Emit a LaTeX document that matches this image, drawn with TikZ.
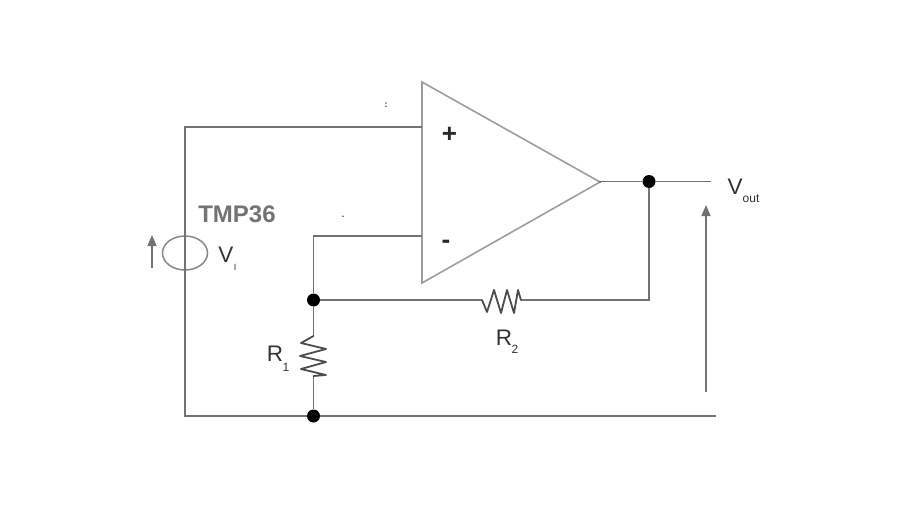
\documentclass[tikz,border=0pt]{standalone}
\usepackage{fontspec}
\setmainfont{Liberation Sans}
\usetikzlibrary{arrows.meta,shapes.geometric}
\definecolor{wire}{gray}{0.45}
\definecolor{wiredark}{gray}{0.3}
\definecolor{labelc}{gray}{0.2}
\tikzset{
  x=1pt,y=-1pt,
  wireline/.style={draw=wire,line width=1.5pt,line join=miter},
  opline/.style={draw=wire!70,line width=1.6pt,line join=miter},
  resline/.style={draw=wiredark,line width=1.8pt,line join=round,line cap=round},
  dotnode/.style={circle,fill=black,draw=none,inner sep=0pt,minimum size=13pt},
  lab/.style={text=labelc,inner sep=0pt,font=\fontsize{22.5}{24}\selectfont},
  subl/.style={text=labelc,inner sep=0pt,font=\fontsize{12}{13}\selectfont},
  sign/.style={text=black!85,inner sep=0pt,font=\bfseries\fontsize{26}{28}\selectfont},
  speck/.style={text=black!80,inner sep=0pt,font=\bfseries\fontsize{9}{10}\selectfont},
  arrowline/.style={draw=wire,line width=1.4pt,-{Triangle[length=11pt,width=9pt]}},
  source/.style={ellipse,draw=wire!85,line width=1.5pt,minimum width=45pt,minimum height=34pt,inner sep=0pt}
}
\begin{document}
\begin{tikzpicture}
\useasboundingbox (0,0) rectangle (921,519);
% op-amp
\coordinate (ta) at (422,82);
\coordinate (tb) at (422,283);
\coordinate (tc) at (600,182);
\draw[opline] (ta) -- (tc) -- (tb) -- cycle;
\node[sign] (plus) at (449.5,135) {+};
\node[sign] (minus) at (446,244.5) {-};
% named points
\coordinate (inp) at (422,127);
\coordinate (inm) at (422,236);
\coordinate (tl) at (185,127);
\coordinate (bl) at (185,416);
\coordinate (ml) at (313.5,236);
\coordinate (br) at (716,416);
\coordinate (outend) at (711,181.5);
\coordinate (fbc) at (649,300);
\node[source] (src) at (185,253) {};
\node[dotnode] (j1) at (313.5,300) {};
\node[dotnode] (j2) at (313.5,416) {};
\node[dotnode] (j3) at (649,181.5) {};
% resistor terminals
\coordinate (r1a) at (313.5,336);
\coordinate (r1b) at (313.5,376);
\coordinate (r2a) at (482,300);
\coordinate (r2b) at (521,300);
% wires
\draw[wireline] (inp) -- (tl) -- (src.north);
\draw[wireline] (src.south) -- (bl) -- (j2) -- (br);
\draw[wireline] (src.north) -- (src.south);
\draw[wireline] (inm) -- (ml) -- (j1);
\draw[wireline] (j1) -- (r1a);
\draw[wireline] (r1b) -- (j2);
\draw[wireline] (j1) -- (r2a);
\draw[wireline] (r2b) -- (fbc) -- (j3);
\draw[wireline] (tc) -- (600,181.5) -- (j3) -- (outend);
% resistors
\draw[resline] (r1a) -- (301,343) -- (326,349) -- (300,356) -- (326,362) -- (301,369) -- (326,375) -- (r1b);
\draw[resline] (r2a) -- (487,312) -- (494,290) -- (501,313) -- (507,290) -- (514,313) -- (518,290) -- (r2b);
% arrows
\coordinate (a1s) at (706,392);
\coordinate (a1e) at (706,205);
\coordinate (a2s) at (152,268);
\coordinate (a2e) at (152,235);
\draw[arrowline] (a1s) -- (a1e);
\draw[arrowline] (a2s) -- (a2e);
% labels
\node[text=black!55,inner sep=0pt,font=\bfseries\fontsize{24}{26}\selectfont] (tmp) at (237,214) {TMP36};
\node[lab] (vi) at (226,255) {V};
\node[subl,font=\fontsize{9}{10}\selectfont] (vis) at (235,267) {I};
\node[lab] (vout) at (735,187) {V};
\node[subl] (vouts) at (751,199) {out};
\node[lab] (r1l) at (275,354) {R};
\node[subl] (r1s) at (286,367) {1};
\node[lab] (r2l) at (504,338) {R};
\node[subl] (r2s) at (515,349) {2};
\node[speck] (s1) at (386,105) {:};
\node[speck] (s2) at (343,217) {.};
\end{tikzpicture}
\end{document}
